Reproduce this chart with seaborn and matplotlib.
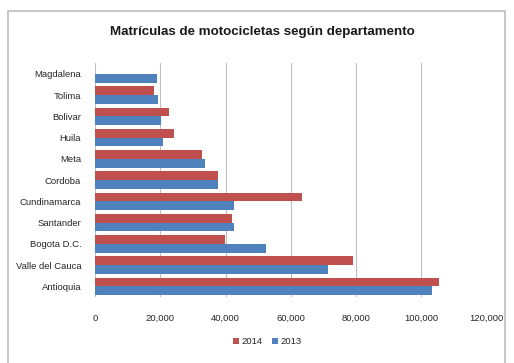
import matplotlib
matplotlib.use("Agg")
import matplotlib.pyplot as plt
import matplotlib.ticker as mticker
from matplotlib.patches import Rectangle
import seaborn as sns
import pandas as pd

departamentos = ["Magdalena", "Tolima", "Bolivar", "Huila", "Meta", "Cordoba",
                 "Cundinamarca", "Santander", "Bogota D.C.", "Valle del Cauca", "Antioquia"]
v2014 = [0, 18100, 22700, 24200, 32700, 37700, 63400, 42000, 39800, 79000, 105400]
v2013 = [19000, 19300, 20200, 20800, 33700, 37800, 42600, 42600, 52300, 71300, 103200]
xticks = [0, 20000, 40000, 60000, 80000, 100000, 120000]

df = pd.DataFrame({
    "dep": departamentos * 2,
    "valor": v2014 + v2013,
    "anio": ["2014"] * len(departamentos) + ["2013"] * len(departamentos),
})

sns.set_theme(style="white")
plt.rcParams["font.family"] = ["Liberation Sans", "DejaVu Sans"]

fig = plt.figure(figsize=(5.14, 3.63), dpi=100)
ax = fig.add_axes([0.185, 0.182, 0.762, 0.644])

sns.barplot(data=df, x="valor", y="dep", hue="anio", hue_order=["2014", "2013"],
            order=departamentos, palette={"2014": "#C0504D", "2013": "#4F81BD"},
            orient="h", width=0.82, saturation=1, linewidth=0, ax=ax, legend=True)

ax.set_xlim(0, 120000)
ax.set_xticks(xticks)
ax.xaxis.set_major_formatter(mticker.FuncFormatter(lambda v, p: f"{int(v):,}"))
ax.grid(axis="x", color="#BFBFBF", linewidth=0.8)
ax.set_axisbelow(True)
for s in ax.spines.values():
    s.set_visible(False)
ax.tick_params(axis="both", length=0, labelsize=6.8, colors="#262626")
ax.tick_params(axis="x", pad=12)
ax.tick_params(axis="y", pad=10)
ax.set_xlabel("")
ax.set_ylabel("")

h, l = ax.get_legend_handles_labels()
ax.get_legend().remove()
fig.legend(h, l, loc="center", bbox_to_anchor=(0.52, 0.058), ncol=2, frameon=False,
           fontsize=6.8, handlelength=0.6, handleheight=0.6, handletextpad=0.3, columnspacing=1.0)

fig.text(0.51, 0.912, "Matrículas de motocicletas según departamento", ha="center",
         va="center", fontsize=9.6, fontweight="bold", color="#1a1a1a")

fig.add_artist(Rectangle((8 / 514, -0.05), (505 - 8) / 514, 1 - 11 / 363 + 0.05,
                         transform=fig.transFigure, fill=False, edgecolor="#BDBDBD", linewidth=1.2))

fig.savefig("out.png", dpi=100)
